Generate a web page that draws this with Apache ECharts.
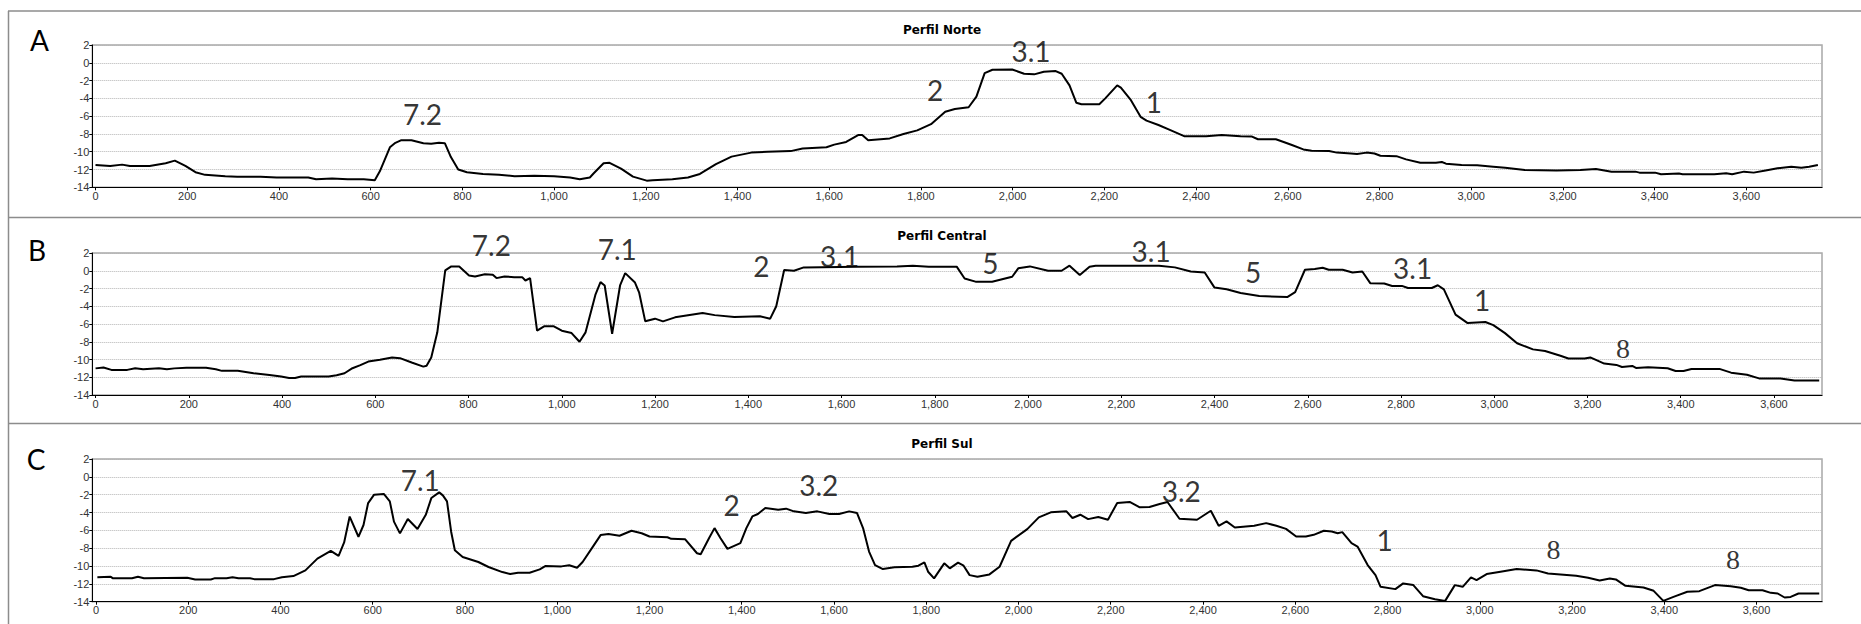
<!DOCTYPE html>
<html>
<head>
<meta charset="utf-8">
<script src="https://cdn.jsdelivr.net/npm/echarts@6/dist/echarts.min.js"></script>
<style>
html,body{margin:0;padding:0;background:#fff;}
#chart{width:1861px;height:624px;}
</style>
</head>
<body>
<div id="chart"></div>
<script>
// ---------- DATA ----------
const panelTitles = ['Perfil Norte', 'Perfil Central', 'Perfil Sul'];
const panelLetters = ['A', 'B', 'C'];
const xTickValues = [0,200,400,600,800,1000,1200,1400,1600,1800,2000,2200,2400,2600,2800,3000,3200,3400,3600];
const yTickValues = [2,0,-2,-4,-6,-8,-10,-12,-14];

const norteX = [0,32,58,75,118,153,173,196,218,239,283,309,360,395,464,481,516,550,585,609,620,642,654,667,689,715,732,749,762,775,791,810,845,880,914,957,1000,1035,1056,1078,1086,1108,1121,1146,1172,1202,1215,1258,1292,1318,1353,1387,1430,1465,1516,1542,1594,1611,1637,1663,1672,1685,1732,1762,1792,1822,1853,1874,1904,1921,1939,1956,1999,2025,2047,2068,2094,2107,2124,2139,2150,2189,2202,2228,2236,2258,2279,2292,2318,2344,2374,2422,2456,2497,2522,2535,2574,2591,2609,2634,2652,2690,2707,2738,2751,2772,2789,2802,2837,2858,2889,2923,2936,2945,2979,3013,3048,3074,3117,3186,3238,3272,3306,3358,3367,3401,3414,3453,3461,3530,3556,3569,3595,3616,3642,3668,3698,3720,3737,3756];
const norteY = [-11.5,-11.6,-11.45,-11.6,-11.6,-11.3,-11.0,-11.6,-12.3,-12.6,-12.75,-12.8,-12.8,-12.9,-12.9,-13.1,-13.0,-13.1,-13.1,-13.2,-12.2,-9.5,-9.0,-8.7,-8.7,-9.05,-9.1,-9.0,-9.05,-10.6,-12.0,-12.3,-12.5,-12.6,-12.75,-12.7,-12.75,-12.9,-13.1,-12.9,-12.45,-11.3,-11.25,-11.9,-12.8,-13.25,-13.2,-13.1,-12.9,-12.5,-11.4,-10.55,-10.1,-10.0,-9.93,-9.63,-9.5,-9.2,-8.9,-8.13,-8.13,-8.7,-8.5,-8.0,-7.6,-6.9,-5.5,-5.2,-5.0,-3.8,-1.16,-0.78,-0.75,-1.23,-1.3,-1.0,-0.93,-1.23,-2.54,-4.5,-4.66,-4.66,-4.0,-2.54,-2.8,-4.2,-6.08,-6.5,-7.0,-7.57,-8.25,-8.25,-8.13,-8.25,-8.3,-8.6,-8.6,-8.9,-9.25,-9.74,-9.9,-9.93,-10.1,-10.2,-10.26,-10.1,-10.2,-10.45,-10.5,-10.86,-11.23,-11.23,-11.16,-11.34,-11.5,-11.53,-11.68,-11.8,-12.05,-12.1,-12.05,-11.94,-12.24,-12.24,-12.35,-12.35,-12.54,-12.46,-12.54,-12.54,-12.43,-12.54,-12.24,-12.35,-12.1,-11.87,-11.68,-11.8,-11.68,-11.5];

const centralX = [0,17,34,68,85,102,136,153,169,195,237,258,271,305,339,373,398,415,428,441,500,517,534,551,568,585,610,636,653,678,703,710,720,733,750,763,780,801,814,835,852,860,877,898,915,922,932,947,962,983,1000,1021,1038,1051,1072,1083,1092,1108,1125,1136,1157,1166,1179,1200,1217,1243,1302,1328,1370,1425,1447,1460,1477,1498,1519,1634,1719,1753,1787,1847,1864,1889,1923,1966,1979,2004,2043,2072,2089,2111,2132,2145,2281,2315,2349,2379,2400,2426,2456,2496,2556,2573,2594,2615,2632,2645,2675,2696,2717,2734,2764,2781,2802,2815,2866,2879,2892,2917,2943,2981,2998,3023,3049,3083,3109,3142,3159,3194,3206,3236,3262,3274,3296,3304,3330,3372,3389,3406,3423,3483,3508,3542,3568,3614,3644,3697];
const centralY = [-11.0,-10.9,-11.17,-11.17,-10.98,-11.1,-10.98,-11.1,-11.0,-10.94,-10.94,-11.1,-11.28,-11.28,-11.55,-11.74,-11.92,-12.08,-12.08,-11.92,-11.92,-11.77,-11.55,-10.98,-10.64,-10.23,-10.04,-9.77,-9.85,-10.34,-10.8,-10.7,-9.77,-6.94,0.04,0.49,0.49,-0.53,-0.64,-0.4,-0.45,-0.83,-0.64,-0.72,-0.72,-1.1,-0.83,-6.75,-6.26,-6.26,-6.75,-7.02,-8.0,-6.94,-2.72,-1.28,-1.66,-7.1,-1.66,-0.27,-1.33,-2.47,-5.7,-5.4,-5.7,-5.25,-4.75,-5.0,-5.2,-5.13,-5.4,-4.0,0.08,0,0.38,0.46,0.49,0.57,0.46,0.46,-0.87,-1.25,-1.25,-0.68,0.27,0.49,0,0,0.57,-0.49,0.46,0.57,0.57,0.38,-0.08,-0.19,-1.9,-2.09,-2.5,-2.85,-2.97,-2.4,0.11,0.19,0.34,0.11,0.11,-0.19,-0.08,-1.4,-1.44,-1.71,-1.71,-1.94,-1.94,-1.63,-2.09,-4.94,-5.9,-5.78,-6.12,-7.03,-8.17,-8.86,-9.05,-9.58,-9.89,-9.89,-9.77,-10.46,-10.61,-10.84,-10.72,-10.95,-10.87,-10.99,-11.29,-11.29,-11.06,-11.06,-11.48,-11.71,-12.13,-12.13,-12.36,-12.36];

const sulX = [3,32,36,78,91,104,198,215,249,258,283,296,309,334,343,386,403,428,454,480,509,526,538,550,569,580,590,603,624,637,646,659,676,697,715,727,744,752,761,770,778,795,829,851,881,898,915,940,962,974,1009,1026,1043,1055,1077,1094,1111,1135,1161,1183,1200,1239,1247,1277,1303,1311,1329,1341,1354,1369,1397,1410,1423,1435,1451,1479,1496,1513,1539,1564,1590,1611,1633,1650,1663,1676,1689,1706,1731,1770,1783,1796,1804,1817,1839,1851,1869,1881,1894,1911,1937,1959,1984,2019,2044,2070,2104,2117,2134,2151,2173,2194,2214,2241,2263,2284,2306,2323,2349,2387,2417,2434,2451,2469,2511,2537,2559,2580,2602,2623,2640,2662,2679,2692,2702,2722,2735,2757,2774,2785,2817,2834,2856,2877,2903,2925,2946,2963,2981,2993,3015,3045,3080,3123,3148,3209,3235,3260,3282,3295,3316,3355,3377,3398,3420,3450,3476,3510,3544,3566,3583,3613,3631,3646,3661,3674,3691,3736];
const sulY = [-11.25,-11.2,-11.36,-11.36,-11.2,-11.36,-11.32,-11.51,-11.51,-11.36,-11.36,-11.25,-11.36,-11.36,-11.47,-11.47,-11.25,-11.13,-10.49,-9.17,-8.3,-8.87,-7.36,-4.45,-6.72,-5.4,-2.94,-2.0,-1.92,-2.75,-5.02,-6.34,-4.72,-5.85,-4.26,-2.38,-1.74,-2.08,-2.75,-6.15,-8.23,-8.98,-9.55,-10.11,-10.68,-10.9,-10.75,-10.75,-10.38,-10.0,-10.04,-9.92,-10.19,-9.55,-7.85,-6.53,-6.42,-6.6,-6.05,-6.32,-6.69,-6.77,-6.95,-6.99,-8.57,-8.68,-6.88,-5.75,-6.88,-8.08,-7.44,-5.75,-4.44,-4.17,-3.5,-3.68,-3.57,-3.87,-4.06,-3.87,-4.17,-4.17,-3.87,-4.06,-5.75,-8.38,-9.89,-10.34,-10.15,-10.08,-9.96,-9.59,-10.64,-11.39,-9.7,-10.26,-9.62,-9.96,-11.02,-11.2,-10.94,-10.08,-7.18,-5.86,-4.55,-3.98,-3.87,-4.62,-4.25,-4.74,-4.51,-4.81,-2.93,-2.82,-3.42,-3.38,-3.05,-2.82,-4.7,-4.81,-3.8,-5.49,-5.0,-5.68,-5.49,-5.19,-5.49,-5.83,-6.69,-6.69,-6.5,-6.05,-6.13,-6.32,-6.2,-7.44,-7.82,-9.89,-11.02,-12.33,-12.59,-11.95,-12.14,-13.38,-13.72,-13.91,-12.14,-12.33,-11.28,-11.58,-10.9,-10.64,-10.34,-10.49,-10.83,-11.09,-11.32,-11.62,-11.39,-11.5,-12.22,-12.4,-12.78,-13.91,-13.46,-12.89,-12.82,-12.14,-12.26,-12.44,-12.71,-12.71,-13.01,-13.08,-13.53,-13.46,-13.08,-13.08];

// annotation labels: [distance, elevation, text]
const norteLabels = [[713,-5.74,'7.2'],[1831,-3.1,'2'],[2040,1.38,'3.1'],[2308,-4.4,'1']];
const centralLabels = [[849,2.87,'7.2'],[1119,2.4,'7.1'],[1428,0.49,'2'],[1596,1.71,'3.1'],[1919,0.87,'5'],[2264,2.28,'3.1'],[2483,-0.19,'5'],[2825,0.27,'3.1'],[2974,-3.3,'1'],[3276,-8.75,'8']];
const sulLabels = [[703,-0.3,'7.1'],[1378,-3.12,'2'],[1567,-0.94,'3.2'],[2353,-1.54,'3.2'],[2794,-7.07,'1'],[3160,-8.2,'8'],[3549,-9.32,'8']];

// axis extents per panel
const xMins = [-7, -7, -8];
const xMaxs = [3765, 3703, 3742];

// ---------- LAYOUT ----------
const gridTops = [45, 253, 459];
const gridHeights = [142.3, 142, 142.7];
const gridLeft = 92.3, gridRight = 39;
const titleY = [29.5, 236, 443.5];
const letterPos = [[39.5, 40], [37, 250], [36, 459]];

const seriesX = [norteX, centralX, sulX];
const seriesY = [norteY, centralY, sulY];
const labelSets = [norteLabels, centralLabels, sulLabels];

const tickFont = 'Liberation Sans';
const grids = [], xAxes = [], yAxes = [], series = [], graphics = [];

for (let i = 0; i < 3; i++) {
  grids.push({left: gridLeft, right: gridRight, top: gridTops[i], height: gridHeights[i],
    show: true, borderColor: '#a8a8a8', borderWidth: 1.5, backgroundColor: '#fff'});
  xAxes.push({
    type: 'value', gridIndex: i, min: xMins[i], max: xMaxs[i],
    axisLine: {show: true, onZero: false, lineStyle: {color: '#000', width: 1}},
    axisTick: {show: true, length: 3, customValues: xTickValues, lineStyle: {color: '#000'}},
    axisLabel: {show: true, customValues: xTickValues, margin: 3, fontSize: 11, fontFamily: tickFont, color: '#333',
      formatter: v => Number(v).toLocaleString('en-US')},
    splitLine: {show: false}
  });
  yAxes.push({
    type: 'value', gridIndex: i, min: -14, max: 2, interval: 2,
    axisLine: {show: true, onZero: false, lineStyle: {color: '#000', width: 1}},
    axisTick: {show: true, length: 3, lineStyle: {color: '#000'}},
    axisLabel: {show: true, margin: 3, fontSize: 11, fontFamily: tickFont, color: '#333'},
    splitLine: {show: true, lineStyle: {color: '#b4b4b4', type: [1, 1], width: 1}}
  });
  const xs = seriesX[i], ys = seriesY[i];
  series.push({
    type: 'line', xAxisIndex: i, yAxisIndex: i,
    data: xs.map((x, k) => [x, ys[k]]),
    showSymbol: false, symbol: 'none', smooth: false,
    lineStyle: {color: '#000', width: 2}, silent: true, animation: false, z: 3
  });
  series.push({
    type: 'scatter', xAxisIndex: i, yAxisIndex: i, clip: false,
    symbolSize: 1, itemStyle: {color: 'rgba(0,0,0,0)'}, silent: true, animation: false, z: 5,
    data: labelSets[i].map(a => ({value: [a[0], a[1]], name: a[2],
      label: {fontFamily: a[2] === '8' ? 'Liberation Serif' : 'Lato'}})),
    label: {show: true, position: 'inside', formatter: p => p.name, fontSize: 28,
      fontFamily: 'Lato', color: '#000'}
  });
  graphics.push({type: 'text', x: 942, y: titleY[i], silent: true,
    style: {text: panelTitles[i], font: 'bold 12px "DejaVu Sans"', fill: '#000',
      align: 'center', verticalAlign: 'middle', textAlign: 'center', textVerticalAlign: 'middle'}});
  graphics.push({type: 'text', x: letterPos[i][0], y: letterPos[i][1], silent: true,
    style: {text: panelLetters[i], font: '28px Lato', fill: '#000',
      align: 'center', verticalAlign: 'middle', textAlign: 'center', textVerticalAlign: 'middle'}});
}

const frameColor = '#8c8c8c';
[[8, 11, 1861, 11], [8, 217.5, 1861, 217.5], [8, 423.5, 1861, 423.5], [8.5, 11, 8.5, 624]].forEach(s => {
  graphics.push({type: 'line', silent: true, shape: {x1: s[0], y1: s[1], x2: s[2], y2: s[3]},
    style: {stroke: frameColor, lineWidth: 1.5}});
});

const chart = echarts.init(document.getElementById('chart'), null, {renderer: 'svg'});
chart.setOption({
  animation: false,
  backgroundColor: '#fff',
  grid: grids, xAxis: xAxes, yAxis: yAxes, series: series,
  graphic: {elements: graphics}
});
</script>
</body>
</html>
